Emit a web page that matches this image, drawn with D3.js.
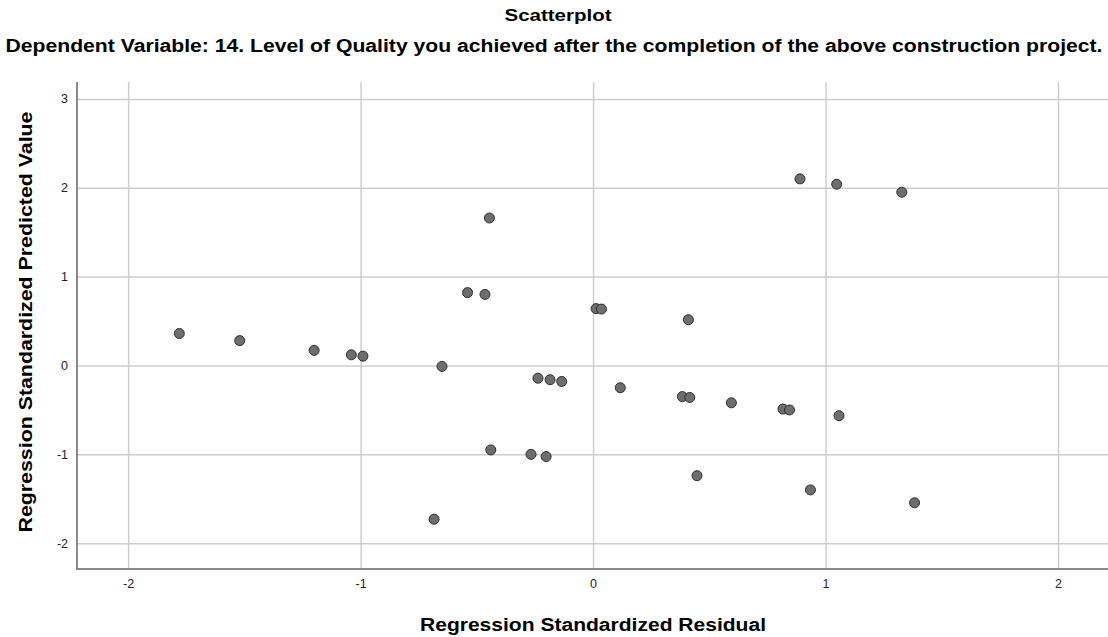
<!DOCTYPE html>
<html>
<head>
<meta charset="utf-8">
<script src="https://cdn.jsdelivr.net/npm/d3@7.9.0/dist/d3.min.js"></script>
<style>
  body { margin: 0; background: #fff; }
  svg { display: block; font-family: "Liberation Sans", Arial, sans-serif; }
</style>
</head>
<body>
<div id="chart"></div>
<script>
// regression standardized residual (x) and predicted value (y)
const residuals = [
  -1.78, -1.52, -1.20, -1.04, -0.99, -0.65, -0.446, -0.54, -0.465, -0.237, -0.185,
  -0.135, 0.013, 0.036, 0.89, 1.048, 1.328, 0.41, 0.117, 0.384, 0.416, 0.595,
  0.817, 0.845, 1.058, 0.447, 0.935, 1.383, -0.44, -0.267, -0.202, -0.684
];
const predicted = [
  0.36, 0.28, 0.17, 0.12, 0.105, -0.01, 1.66, 0.82, 0.80, -0.143, -0.16,
  -0.18, 0.64, 0.635, 2.10, 2.04, 1.95, 0.515, -0.25, -0.35, -0.36, -0.42,
  -0.49, -0.50, -0.565, -1.24, -1.40, -1.545, -0.95, -1.00, -1.025, -1.73
];
const xTicks = [-2, -1, 0, 1, 2];
const yTicks = [-2, -1, 0, 1, 2, 3];

const title = 'Scatterplot';
const subtitle = 'Dependent Variable: 14. Level of Quality you achieved after the completion of the above construction project.';
const xLabel = 'Regression Standardized Residual';
const yLabel = 'Regression Standardized Predicted Value';

const width = 1108;
const height = 637;
const margin = { top: 82, right: 0, bottom: 68, left: 77 };
const usableArea = {
  top: margin.top,
  right: width - margin.right,
  bottom: height - margin.bottom,
  left: margin.left,
  width: width - margin.left - margin.right,
  height: height - margin.top - margin.bottom,
};

const points = residuals.map((r, i) => ({ x: r, y: predicted[i] }));

const svg = d3.select('#chart')
  .append('svg')
  .attr('width', width)
  .attr('height', height);

const xScale = d3.scaleLinear()
  .domain([-2.22, 2.215])
  .range([usableArea.left, usableArea.right]);

const yScale = d3.scaleLinear()
  .domain([-2.29, 3.19])
  .range([usableArea.bottom, usableArea.top]);

// gridlines first
svg.append('g')
  .attr('class', 'gridlines')
  .attr('transform', `translate(${usableArea.left}, 0)`)
  .call(d3.axisLeft(yScale).tickValues(yTicks).tickFormat('').tickSize(-usableArea.width));
svg.append('g')
  .attr('class', 'gridlines')
  .attr('transform', `translate(0, ${usableArea.bottom})`)
  .call(d3.axisBottom(xScale).tickValues(xTicks).tickFormat('').tickSize(-usableArea.height));
svg.selectAll('.gridlines .domain').remove();
svg.selectAll('.gridlines line')
  .attr('stroke', '#cdcdcd')
  .attr('stroke-width', 1.5);

// tick labels, plain hyphen minus like the original
const fmt = (d) => String(d);
const yAxis = svg.append('g')
  .attr('transform', `translate(${usableArea.left}, 0)`)
  .call(d3.axisLeft(yScale).tickValues(yTicks).tickFormat(fmt).tickSize(0).tickPadding(9));
const xAxis = svg.append('g')
  .attr('transform', `translate(0, ${usableArea.bottom})`)
  .call(d3.axisBottom(xScale).tickValues(xTicks).tickFormat(fmt).tickSize(0).tickPadding(10));
[xAxis, yAxis].forEach((g) => {
  g.select('.domain').remove();
  g.selectAll('text')
    .attr('fill', '#222')
    .style('font-size', '12.5px')
    .style('font-family', '"Liberation Sans", Arial, sans-serif');
});

// axis lines
svg.append('line')
  .attr('x1', usableArea.left).attr('x2', usableArea.left)
  .attr('y1', usableArea.top).attr('y2', usableArea.bottom + 1)
  .attr('stroke', '#8a8a8a').attr('stroke-width', 2);
svg.append('line')
  .attr('x1', usableArea.left - 1).attr('x2', usableArea.right)
  .attr('y1', usableArea.bottom).attr('y2', usableArea.bottom)
  .attr('stroke', '#8a8a8a').attr('stroke-width', 2);

// dots
svg.append('g')
  .attr('class', 'dots')
  .selectAll('circle')
  .data(points)
  .join('circle')
  .attr('cx', (d) => xScale(d.x))
  .attr('cy', (d) => yScale(d.y))
  .attr('r', 5)
  .attr('fill', '#6e6e6e')
  .attr('stroke', '#2e2e2e')
  .attr('stroke-width', 1);

// titles
svg.append('text')
  .attr('x', 558).attr('y', 21)
  .attr('text-anchor', 'middle')
  .style('font-weight', 'bold').style('font-size', '17px')
  .attr('textLength', 107).attr('lengthAdjust', 'spacingAndGlyphs')
  .text(title);

svg.append('text')
  .attr('x', 554).attr('y', 52)
  .attr('text-anchor', 'middle')
  .style('font-weight', 'bold').style('font-size', '18px')
  .attr('textLength', 1097).attr('lengthAdjust', 'spacingAndGlyphs')
  .text(subtitle);

svg.append('text')
  .attr('x', 593).attr('y', 631)
  .attr('text-anchor', 'middle')
  .style('font-weight', 'bold').style('font-size', '18px')
  .attr('textLength', 346).attr('lengthAdjust', 'spacingAndGlyphs')
  .text(xLabel);

svg.append('text')
  .attr('transform', 'translate(32, 322) rotate(-90)')
  .attr('text-anchor', 'middle')
  .style('font-weight', 'bold').style('font-size', '18px')
  .attr('textLength', 421).attr('lengthAdjust', 'spacingAndGlyphs')
  .text(yLabel);
</script>
</body>
</html>
